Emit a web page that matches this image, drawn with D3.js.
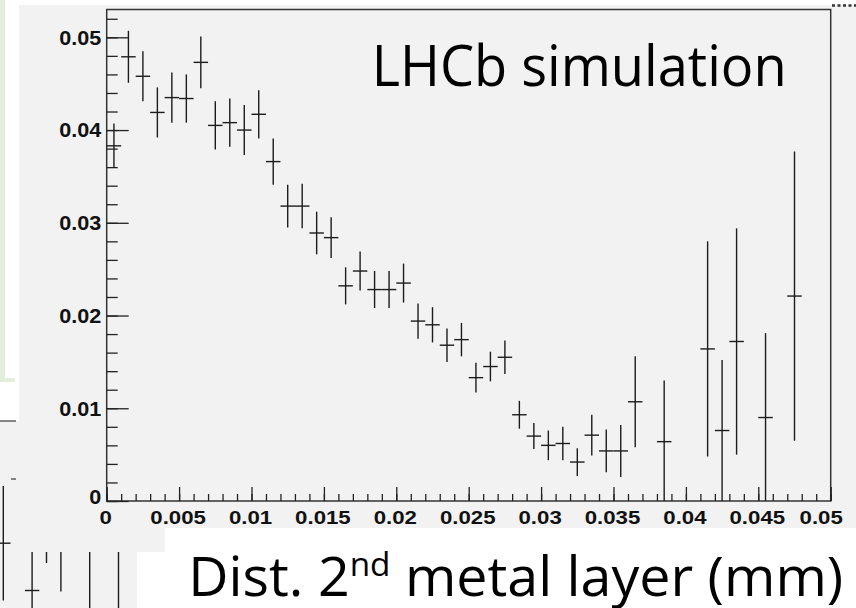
<!DOCTYPE html>
<html>
<head>
<meta charset="utf-8">
<script src="https://cdn.jsdelivr.net/npm/d3@7"></script>
<style>
  body { margin: 0; background: #fff; }
  svg { display: block; }
</style>
</head>
<body>
<div class="chart"></div>
<script>
// histogram: 50 bins of 0.001 mm, null = empty bin (not drawn)
const binCenters = [
  0.0005, 0.0015, 0.0025, 0.0035, 0.0045, 0.0055, 0.0065, 0.0075, 0.0085, 0.0095,
  0.0105, 0.0115, 0.0125, 0.0135, 0.0145, 0.0155, 0.0165, 0.0175, 0.0185, 0.0195,
  0.0205, 0.0215, 0.0225, 0.0235, 0.0245, 0.0255, 0.0265, 0.0275, 0.0285, 0.0295,
  0.0305, 0.0315, 0.0325, 0.0335, 0.0345, 0.0355, 0.0365, 0.0375, 0.0385, 0.0395,
  0.0405, 0.0415, 0.0425, 0.0435, 0.0445, 0.0455, 0.0465, 0.0475, 0.0485, 0.0495
];
const values = [
  0.0383, 0.0479, 0.0458, 0.0419, 0.0435, 0.0434, 0.0473, 0.0405, 0.0408, 0.0400,
  0.0417, 0.0366, 0.0318, 0.0318, 0.0289, 0.0284, 0.0232, 0.0248, 0.0228, 0.0228,
  0.0235, 0.0194, 0.0190, 0.0168, 0.0174, 0.0133, 0.0145, 0.0155, 0.0093, 0.0070,
  0.0060, 0.0062, 0.0042, 0.0071, 0.0054, 0.0054, 0.0107, null,   0.0064, null,
  null,   0.0164, 0.0076, 0.0172, null,   0.0090, null,   0.0221, null,   null
];
const errors = [
  0.0024, 0.0028, 0.0027, 0.0027, 0.0027, 0.0026, 0.0028, 0.0026, 0.0026, 0.0027,
  0.0026, 0.0025, 0.0023, 0.0024, 0.0023, 0.0022, 0.0020, 0.0021, 0.0020, 0.0020,
  0.0021, 0.0019, 0.0019, 0.0018, 0.0018, 0.0016, 0.0016, 0.0018, 0.0015, 0.0014,
  0.0016, 0.0018, 0.0015, 0.0022, 0.0023, 0.0028, 0.0049, null,   0.0066, null,
  null,   0.0116, 0.0076, 0.0122, null,   0.0091, null,   0.0156, null,   null
];
const binWidth = 0.001;

const xTicks = [0, 0.005, 0.01, 0.015, 0.02, 0.025, 0.03, 0.035, 0.04, 0.045, 0.05];
const xTickLabels = ["0", "0.005", "0.01", "0.015", "0.02", "0.025", "0.03", "0.035", "0.04", "0.045", "0.05"];
const yTicks = [0, 0.01, 0.02, 0.03, 0.04, 0.05];
const yTickLabels = ["0", "0.01", "0.02", "0.03", "0.04", "0.05"];

const label = "LHCb simulation";
const xTitle = ["Dist. 2", "nd", " metal layer (mm)"];

// fragment of another plot lying behind (bottom-left corner)
const bgCenters = [0.0005, 0.0025, 0.0035, 0.0045, 0.0065, 0.0085];
const bgValues  = [0.0088, 0.0045, 0.0105, 0.0090, 0.0095, 0.0100];
const bgErrors  = [0.0052, 0.0045, 0.0035, 0.0046, 0.0070, 0.0080];

const W = 856, H = 608;
const ink = "#1c1c1c";

const svg = d3.select(".chart")
  .append("svg")
    .attr("width", W)
    .attr("height", H);

svg.append("rect").attr("width", W).attr("height", H).attr("fill", "#fff");

// pale green slide box on the left
svg.append("rect").attr("x", 0).attr("y", 0).attr("width", 5).attr("height", 382).attr("fill", "#e3efda");
svg.append("rect").attr("x", 0).attr("y", 378).attr("width", 15).attr("height", 4).attr("fill", "#e3efda");

// background plot
const xBg = d3.scaleLinear().domain([0, 0.01]).range([-3.9, 140.1]);
const yBg = d3.scaleLinear().domain([0, 0.02]).range([640, 420]);
const bg = svg.append("g");
bg.append("rect").attr("x", 0).attr("y", 421).attr("width", 140).attr("height", H - 421).attr("fill", "#f2f2f2");
bg.append("line").attr("x1", 0).attr("x2", 16).attr("y1", 421).attr("y2", 421).attr("stroke", "#444").attr("stroke-width", 1.3);
bg.append("line").attr("x1", 11).attr("x2", 16).attr("y1", 479).attr("y2", 479).attr("stroke", "#444").attr("stroke-width", 1.3);
const bgData = bgCenters.map((c, i) => ({c: c, v: bgValues[i], e: bgErrors[i]}));
bg.selectAll(".bgv").data(bgData).enter().append("line")
  .attr("x1", d => xBg(d.c)).attr("x2", d => xBg(d.c))
  .attr("y1", d => yBg(d.v + d.e)).attr("y2", d => yBg(d.v - d.e))
  .attr("stroke", ink).attr("stroke-width", 1.4);
bg.selectAll(".bgh").data(bgData).enter().append("line")
  .attr("x1", d => xBg(d.c - binWidth / 2)).attr("x2", d => xBg(d.c + binWidth / 2))
  .attr("y1", d => yBg(d.v)).attr("y2", d => yBg(d.v))
  .attr("stroke", ink).attr("stroke-width", 1.4);

// main pad
svg.append("rect").attr("x", 19).attr("y", 5).attr("width", W - 19).attr("height", 552 - 5).attr("fill", "#f2f2f2");

const x = d3.scaleLinear().domain([0, 0.05]).range([106.7, 830.7]);
const y = d3.scaleLinear().domain([0, 0.053]).range([501, 9.5]);

// frame
svg.append("rect")
  .attr("x", x(0)).attr("y", y(0.053))
  .attr("width", x(0.05) - x(0)).attr("height", y(0) - y(0.053))
  .attr("fill", "none").attr("stroke", "#333").attr("stroke-width", 1.5);

function stretch(sel, sx) {
  sel.attr("transform", function() {
    const tx = +this.getAttribute("x") || 0;
    return "translate(" + tx + ",0) scale(" + sx + ",1) translate(" + (-tx) + ",0)";
  });
}

// y axis
const yMinor = d3.range(0, 0.0531, 0.002);
svg.append("g")
  .attr("transform", "translate(" + x(0) + ",0)")
  .call(d3.axisLeft(y).tickValues(yMinor).tickSize(-11).tickFormat(""))
  .call(g => g.select(".domain").remove());
const yAxis = svg.append("g")
  .attr("transform", "translate(" + x(0) + ",0)")
  .call(d3.axisLeft(y).tickValues(yTicks).tickSize(-22).tickPadding(5.5)
    .tickFormat((d, i) => yTickLabels[i]))
  .call(g => g.select(".domain").remove());
yAxis.selectAll("text")
  .attr("font-family", "'Liberation Sans', Arial, sans-serif")
  .attr("font-weight", "bold")
  .attr("font-size", 20)
  .attr("fill", "#111")
  .attr("dy", (d) => d === 0 ? "0.1em" : "0.34em")
  .call(stretch, 1.08);

// x axis
const xMinor = d3.range(0, 0.0501, 0.001);
svg.append("g")
  .attr("transform", "translate(0," + y(0) + ")")
  .call(d3.axisBottom(x).tickValues(xMinor).tickSize(-7).tickFormat(""))
  .call(g => g.select(".domain").remove());
const xAxis = svg.append("g")
  .attr("transform", "translate(0," + y(0) + ")")
  .call(d3.axisBottom(x).tickValues(xTicks).tickSize(-14).tickPadding(9.5)
    .tickFormat((d, i) => xTickLabels[i]))
  .call(g => g.select(".domain").remove());
xAxis.selectAll("text")
  .attr("font-family", "'Liberation Sans', Arial, sans-serif")
  .attr("font-weight", "bold")
  .attr("font-size", 19)
  .attr("fill", "#111")
  .attr("x", d => d === 0.05 ? -10 : -1.5)
  .call(stretch, 1.17);

svg.selectAll(".tick line").attr("stroke", "#222").attr("stroke-width", 1.3);

// data points with error bars
const pts = binCenters.map((c, i) => ({c: c, v: values[i], e: errors[i]}))
  .filter(d => d.v !== null);
const marks = svg.append("g").attr("stroke", ink).attr("stroke-width", 1.4);
marks.selectAll(".ev").data(pts).enter().append("line")
  .attr("x1", d => x(d.c)).attr("x2", d => x(d.c))
  .attr("y1", d => y(d.v + d.e)).attr("y2", d => y(Math.max(0, d.v - d.e)));
marks.selectAll(".eh").data(pts).enter().append("line")
  .attr("x1", d => x(d.c - binWidth / 2)).attr("x2", d => x(d.c + binWidth / 2))
  .attr("y1", d => y(d.v)).attr("y2", d => y(d.v));

// dotted corner at top right
svg.append("line").attr("x1", 832).attr("x2", 856).attr("y1", 5.5).attr("y2", 5.5)
  .attr("stroke", "#333").attr("stroke-width", 2.4).attr("stroke-dasharray", "3,2.5");

// LHCb label
const bigFont = "'Open Sans', 'Noto Sans', sans-serif";
const lab = svg.append("text")
  .attr("x", 371.7).attr("y", 86)
  .attr("font-family", bigFont).attr("font-size", 57).attr("fill", "#000")
  .text(label);
fitWidth(lab, 371.7, 415);

// x title on white box
svg.append("rect").attr("x", 165).attr("y", 528).attr("width", W - 165).attr("height", H - 528).attr("fill", "#fff");
svg.append("rect").attr("x", 137).attr("y", 552).attr("width", 28).attr("height", H - 552).attr("fill", "#fff");
const xt = svg.append("text")
  .attr("x", 188.3).attr("y", 596)
  .attr("font-family", bigFont).attr("font-size", 55).attr("fill", "#000");
xt.append("tspan").text(xTitle[0]);
xt.append("tspan").attr("font-size", 33).attr("dy", -20).text(xTitle[1]);
xt.append("tspan").attr("dy", 20).text(xTitle[2]);
fitWidth(xt, 188.3, 655);

function fitWidth(t, x0, target) {
  const w = t.node().getBBox().width;
  const s = target / w;
  t.attr("transform", "translate(" + x0 + ",0) scale(" + s + ",1) translate(" + (-x0) + ",0)");
}
</script>
</body>
</html>
